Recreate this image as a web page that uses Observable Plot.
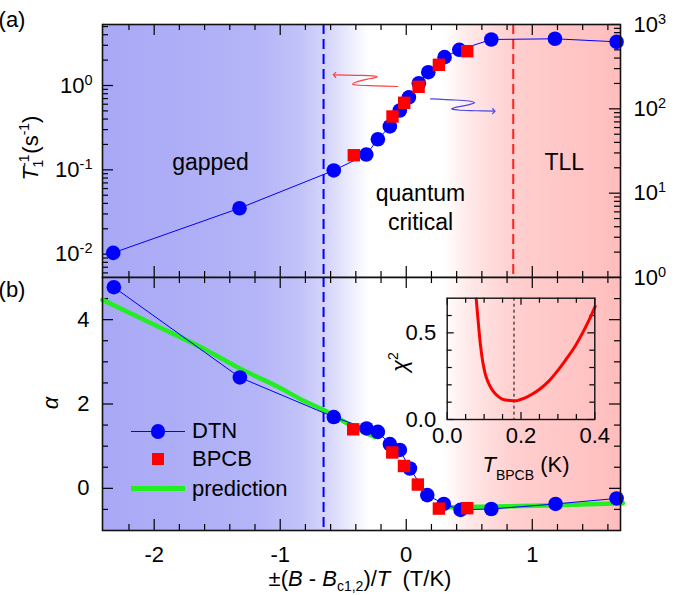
<!DOCTYPE html>
<html><head><meta charset="utf-8">
<script src="https://cdn.jsdelivr.net/npm/d3@7"></script>
<script src="https://cdn.jsdelivr.net/npm/@observablehq/plot@0.6"></script>
<style>
html,body{margin:0;padding:0;background:#fff;}
#wrap{position:relative;width:678px;height:595px;overflow:hidden;font-family:"Liberation Sans",Arial,Helvetica,sans-serif;}
#wrap > svg{position:absolute;left:0;top:0;margin:0;}
.lg{position:absolute;font-size:22px;line-height:22px;color:#000;white-space:nowrap;}
.sw{position:absolute;}
</style></head><body><div id="wrap"></div>
<script>
// ---------------- data ----------------
const xDomain = [-2.41, 1.70];
const kRight = 189.07;                 // right axis value / left axis value
const t1Domain = [0.005289, 5.289];     // left axis (BPCB T1^-1, s^-1)
const alphaDomain = [-1, 5];
const chiXDomain = [0, 0.4];
const chiYDomain = [0, 0.7];

// panel (a): DTN (right axis units) and BPCB (left axis units)
const dtnXa  = [-2.325, -1.323, -0.575, -0.317, -0.225, -0.130, -0.051, 0.021, 0.100, 0.175, 0.304, 0.421, 0.675, 1.180, 1.669];
const dtnT1  = [1.96, 6.63, 18.6, 28.7, 43.6, 61.8, 95.5, 137, 201, 272, 410, 501, 664, 677, 623];
const bpcbXa = [-0.416, -0.109, -0.016, 0.098, 0.259, 0.484];
const bpcbT1 = [0.149, 0.429, 0.624, 0.965, 1.76, 2.55];

// panel (b): exponent alpha
const dtnXb     = [-2.32, -1.32, -0.575, -0.315, -0.225, -0.130, -0.051, 0.029, 0.167, 0.298, 0.431, 0.675, 1.185, 1.669];
const dtnAlpha  = [4.77, 2.63, 1.69, 1.42, 1.34, 1.05, 0.91, 0.47, -0.16, -0.37, -0.51, -0.49, -0.37, -0.24];
const bpcbXb    = [-0.421, -0.111, -0.018, 0.092, 0.259, 0.484];
const bpcbAlpha = [1.40, 0.85, 0.53, 0.09, -0.48, -0.47];
const predX1 = [-2.41, -2.0, -1.6, -1.32, -1.0, -0.83, -0.65, -0.42, -0.25];
const predA1 = [4.47, 3.88, 3.30, 2.84, 2.38, 2.10, 1.85, 1.46, 1.22];
const predX2 = [0.33, 0.70, 1.20, 1.72];
const predA2 = [-0.45, -0.43, -0.40, -0.355];

// inset: chi^2 vs T_BPCB
const chiX = [0.0787, 0.086, 0.0905, 0.0968, 0.106, 0.118, 0.131, 0.149, 0.172, 0.190, 0.208, 0.231, 0.253, 0.276, 0.299, 0.321, 0.344, 0.367, 0.385, 0.401];
const chiY = [0.695, 0.519, 0.424, 0.328, 0.242, 0.185, 0.147, 0.118, 0.109, 0.109, 0.122, 0.147, 0.179, 0.223, 0.281, 0.344, 0.414, 0.500, 0.576, 0.653];
const chiBest = 0.181;

// boundaries and annotations
const gapBoundary = -0.656;
const tllBoundary = 0.849;
const regionText = ["gapped", "quantum\ncritical", "TLL"];
const regionX = [-1.553, 0.113, 1.254];
const regionY = [0.127, 0.0373, 0.127];
const redArrowX = [-0.069, -0.244, -0.394, -0.426, -0.394, -0.283, -0.228, -0.268, -0.402, -0.569];
const redArrowY = [0.973, 0.992, 1.014, 1.039, 1.100, 1.211, 1.268, 1.303, 1.321, 1.339];
const blueArrowX = [0.193, 0.391, 0.510, 0.542, 0.494, 0.391, 0.360, 0.415, 0.550, 0.695];
const blueArrowY = [0.695, 0.673, 0.650, 0.623, 0.590, 0.551, 0.529, 0.512, 0.502, 0.496];

// background shading
const bgStopX = [-2.41, -1.2, -0.85, -0.6, -0.3, 0.3, 0.5, 0.85, 1.70];
const bgStopColor = ["#a8a8f6", "#b4b4f8", "#c2c2f9", "#d8d8fb", "#ffffff", "#ffffff", "#ffe8e8", "#ffcfcf", "#ffbdbd"];

// ticks
const xMajor = [-2, -1, 0, 1];
const xMinor = [-2.2, -1.8, -1.6, -1.4, -1.2, -0.8, -0.6, -0.4, -0.2, 0.2, 0.4, 0.6, 0.8, 1.2, 1.4, 1.6];
const t1Major = [0.01, 0.1, 1];
const t1Minor = [0.006, 0.007, 0.008, 0.009, 0.02, 0.03, 0.04, 0.05, 0.06, 0.07, 0.08, 0.09, 0.2, 0.3, 0.4, 0.5, 0.6, 0.7, 0.8, 0.9, 2, 3, 4, 5];
const rMajor = [1, 10, 100, 1000];
const rMinor = [2, 3, 4, 5, 6, 7, 8, 9, 20, 30, 40, 50, 60, 70, 80, 90, 200, 300, 400, 500, 600, 700, 800, 900];
const aMajor = [0, 2, 4];
const aMinor = [-0.5, 0.5, 1, 1.5, 2.5, 3, 3.5, 4.5];
const cxMajor = [0, 0.2, 0.4];
const cxMinor = [0.05, 0.1, 0.15, 0.25, 0.3, 0.35];
const cyMajor = [0, 0.5];
const cyMinor = [0.1, 0.2, 0.3, 0.4, 0.6];

// ---------------- build ----------------
const FONT = '"Liberation Sans", Arial, Helvetica, sans-serif';
const W = 678, H = 595, mL = 102, mR = 58;
const fW = W - mL - mR;
const BLUE = "#0000ff", RED = "#ff0000", GREEN = "#22ee22";
const wrap = document.getElementById("wrap");

// gradient definition
const defsSvg = d3.select(wrap).append("svg").attr("width", 0).attr("height", 0);
const grad = defsSvg.append("defs").append("linearGradient").attr("id", "bgGrad")
  .attr("x1", 0).attr("x2", 1).attr("y1", 0).attr("y2", 0);
bgStopX.forEach((v, i) => grad.append("stop")
  .attr("offset", (v - xDomain[0]) / (xDomain[1] - xDomain[0]))
  .attr("stop-color", bgStopColor[i]));

const zip = (xs, ys) => xs.map((x, i) => ({x, y: ys[i]}));

function frameTicks(o) {
  const {fw, fh, xs = [], ys = []} = o;
  const m = [];
  for (const [vals, len] of xs) {
    m.push(Plot.tickX(vals, {x: d => d, insetBottom: fh - len, stroke: "#000", strokeWidth: 1.2}));
    m.push(Plot.tickX(vals, {x: d => d, insetTop: fh - len, stroke: "#000", strokeWidth: 1.2}));
  }
  for (const [vals, len, side] of ys) {
    if (side !== "right") m.push(Plot.tickY(vals, {y: d => d, insetRight: fw - len, stroke: "#000", strokeWidth: 1.2}));
    if (side !== "left") m.push(Plot.tickY(vals, {y: d => d, insetLeft: fw - len, stroke: "#000", strokeWidth: 1.2}));
  }
  return m;
}
const baseStyle = {background: "transparent", fontFamily: FONT, fontSize: "22px", overflow: "visible", color: "#000"};

// ---- panel (a)
const fhA = 277 - 24;
const plotA = Plot.plot({
  width: W, height: H, marginLeft: mL, marginRight: mR, marginTop: 24, marginBottom: H - 277,
  style: baseStyle,
  x: {domain: xDomain, axis: null},
  y: {type: "log", domain: t1Domain, axis: null},
  marks: [
    Plot.frame({fill: "url(#bgGrad)", stroke: "none"}),
    Plot.ruleX([gapBoundary], {stroke: BLUE, strokeWidth: 2, strokeDasharray: "10,5"}),
    Plot.ruleX([tllBoundary], {stroke: "#ff2020", strokeWidth: 2, strokeDasharray: "10,5"}),
    ...frameTicks({fw: fW, fh: fhA, xs: [[xMajor, 11], [xMinor, 6]],
      ys: [[t1Major, 11, "left"], [t1Minor, 6, "left"], [rMajor.map(v => v / kRight), 11, "right"], [rMinor.map(v => v / kRight), 6, "right"]]}),
    Plot.axisY({anchor: "left", ticks: t1Major, tickSize: 0, tickPadding: 10, fontSize: 22, label: null,
      tickFormat: d => "10^" + Math.round(Math.log10(d))}),
    Plot.text(rMajor, {y: d => d / kRight, text: d => "10^" + Math.round(Math.log10(d)), frameAnchor: "right",
      dx: 13, textAnchor: "start", fontSize: 22, fill: "#000"}),
    Plot.text(regionText.map((t, i) => ({t, x: regionX[i], y: regionY[i]})), {x: "x", y: "y", text: "t", fontSize: 23, lineHeight: 1.26, fill: "#000"}),
    Plot.line(zip(redArrowX, redArrowY), {x: "x", y: "y", stroke: "#ff4040", strokeWidth: 1.2, curve: "catmull-rom", markerEnd: "arrow"}),
    Plot.line(zip(blueArrowX, blueArrowY), {x: "x", y: "y", stroke: "#4848e0", strokeWidth: 1.2, curve: "catmull-rom", markerEnd: "arrow"}),
    Plot.line(zip(dtnXa, dtnT1), {x: "x", y: d => d.y / kRight, stroke: BLUE, strokeWidth: 1}),
    Plot.dot(zip(dtnXa, dtnT1), {x: "x", y: d => d.y / kRight, r: 7.3, fill: BLUE}),
    Plot.dot(zip(bpcbXa, bpcbT1), {x: "x", y: "y", r: 7, symbol: "square", fill: RED}),
    Plot.frame({stroke: "#111", strokeWidth: 1.6})
  ]
});

// ---- panel (b)
const fhB = 530 - 277;
const plotB = Plot.plot({
  width: W, height: H, marginLeft: mL, marginRight: mR, marginTop: 277, marginBottom: H - 530,
  style: baseStyle,
  x: {domain: xDomain, axis: null},
  y: {domain: alphaDomain, axis: null},
  marks: [
    Plot.frame({fill: "url(#bgGrad)", stroke: "none"}),
    Plot.ruleX([gapBoundary], {stroke: BLUE, strokeWidth: 2, strokeDasharray: "10,5"}),
    ...frameTicks({fw: fW, fh: fhB, xs: [[xMajor, 11], [xMinor, 6]], ys: [[aMajor, 11], [aMinor, 6]]}),
    Plot.axisY({anchor: "left", ticks: aMajor, tickSize: 0, tickPadding: 13, fontSize: 22, label: null, tickFormat: d => String(d)}),
    Plot.axisX({anchor: "bottom", ticks: xMajor, tickSize: 0, tickPadding: 16, fontSize: 22, label: null, tickFormat: d => String(d)}),
    Plot.line(zip(predX1, predA1), {x: "x", y: "y", stroke: GREEN, strokeWidth: 4.5, curve: "catmull-rom"}),
    Plot.line(zip(predX2, predA2), {x: "x", y: "y", stroke: GREEN, strokeWidth: 4.5}),
    Plot.line(zip(dtnXb, dtnAlpha), {x: "x", y: "y", stroke: BLUE, strokeWidth: 1}),
    Plot.dot(zip(dtnXb, dtnAlpha), {x: "x", y: "y", r: 7.3, fill: BLUE}),
    Plot.dot(zip(bpcbXb, bpcbAlpha), {x: "x", y: "y", r: 7, symbol: "square", fill: RED}),
    Plot.frame({stroke: "#111", strokeWidth: 1.6})
  ]
});

// ---- inset
const iL = 446.7, iR = 594.3, iT = 297.7, iB = 419;
const plotC = Plot.plot({
  width: W, height: H, marginLeft: iL, marginRight: W - iR, marginTop: iT, marginBottom: H - iB,
  style: baseStyle,
  x: {domain: chiXDomain, axis: null},
  y: {domain: chiYDomain, axis: null},
  marks: [
    Plot.ruleX([chiBest], {stroke: "#000", strokeWidth: 1, strokeDasharray: "3,3"}),
    ...frameTicks({fw: iR - iL, fh: iB - iT, xs: [[cxMajor, 7], [cxMinor, 5]], ys: [[cyMajor, 7], [cyMinor, 5]]}),
    Plot.axisY({anchor: "left", ticks: cyMajor, tickSize: 0, tickPadding: 11, fontSize: 22, label: null, tickFormat: d3.format(".1f")}),
    Plot.axisX({anchor: "bottom", ticks: cxMajor, tickSize: 0, tickPadding: 8, fontSize: 22, label: null, tickFormat: d3.format(".1f")}),
    Plot.line(zip(chiX, chiY), {x: "x", y: "y", stroke: RED, strokeWidth: 3, curve: "catmull-rom"}),
    Plot.frame({stroke: "#111", strokeWidth: 1.4})
  ]
});

wrap.appendChild(plotA);
wrap.appendChild(plotB);
wrap.appendChild(plotC);

// superscripts in "10^n" tick labels
d3.select(plotA).selectAll("text").each(function () {
  const m = /^10\^(-?\d+)$/.exec(this.textContent);
  if (m) {
    const s = d3.select(this);
    s.text("10");
    s.append("tspan").attr("dy", "-0.55em").attr("font-size", "0.66em").text(m[1]);
  }
});

function txt(svg, attrs) {
  const t = d3.select(svg).append("text").attr("font-family", FONT).attr("font-size", 22).attr("fill", "#000");
  for (const k in attrs) t.attr(k, attrs[k]);
  return t;
}
txt(plotA, {x: 12, y: 27}).text("(a)");
txt(plotB, {x: 12, y: 297}).text("(b)");

{
  const t = txt(plotA, {transform: "translate(38,148) rotate(-90)", "text-anchor": "middle"});
  t.append("tspan").attr("font-style", "italic").text("T");
  t.append("tspan").attr("font-size", 14).attr("dy", -9).text("-1");
  t.append("tspan").attr("font-size", 14).attr("dx", -12).attr("dy", 14).text("1");
  t.append("tspan").attr("dy", -5).text("\u00a0(s");
  t.append("tspan").attr("font-size", 14).attr("dy", -9).text("-1");
  t.append("tspan").attr("dy", 9).text(")");
}
txt(plotB, {transform: "translate(58,403) rotate(-90)", "text-anchor": "middle", "font-style": "italic"}).text("\u03b1");
{
  const t = txt(plotB, {x: 360, y: 586, "text-anchor": "middle"});
  t.append("tspan").text("\u00b1(");
  t.append("tspan").attr("font-style", "italic").text("B");
  t.append("tspan").text(" - ");
  t.append("tspan").attr("font-style", "italic").text("B");
  t.append("tspan").attr("font-size", 14).attr("dy", 5).text("c1,2");
  t.append("tspan").attr("dy", -5).text(")/");
  t.append("tspan").attr("font-style", "italic").text("T");
  t.append("tspan").text("\u00a0\u00a0(T/K)");
}
{
  const t = txt(plotC, {transform: "translate(407,362) rotate(-90)", "text-anchor": "middle"});
  t.append("tspan").attr("font-style", "italic").text("\u03c7");
  t.append("tspan").attr("font-size", 14).attr("dy", -9).text("2");
  const u = txt(plotC, {x: 526, y: 472, "text-anchor": "middle"});
  u.append("tspan").attr("font-style", "italic").text("T");
  u.append("tspan").attr("font-size", 14).attr("dy", 8).text("BPCB");
  u.append("tspan").attr("dy", -8).text("\u00a0(K)");
}

function sw(css) { const d = document.createElement("div"); d.className = "sw"; Object.assign(d.style, css); wrap.appendChild(d); }
function lgText(t, left, baseline) { const d = document.createElement("div"); d.className = "lg"; d.textContent = t; d.style.left = left + "px"; d.style.top = (baseline - 18.6) + "px"; wrap.appendChild(d); }
sw({left: "131px", top: "431.2px", width: "54px", height: "1.2px", background: BLUE});
sw({left: "150.7px", top: "424.4px", width: "14.6px", height: "14.6px", borderRadius: "50%", background: BLUE});
lgText("DTN", 192, 438.5);
sw({left: "151.8px", top: "453.1px", width: "12.4px", height: "12.4px", background: RED});
lgText("BPCB", 192, 467);
sw({left: "131px", top: "486px", width: "54px", height: "4.5px", background: GREEN});
lgText("prediction", 192, 496.5);
</script>
</body></html>
